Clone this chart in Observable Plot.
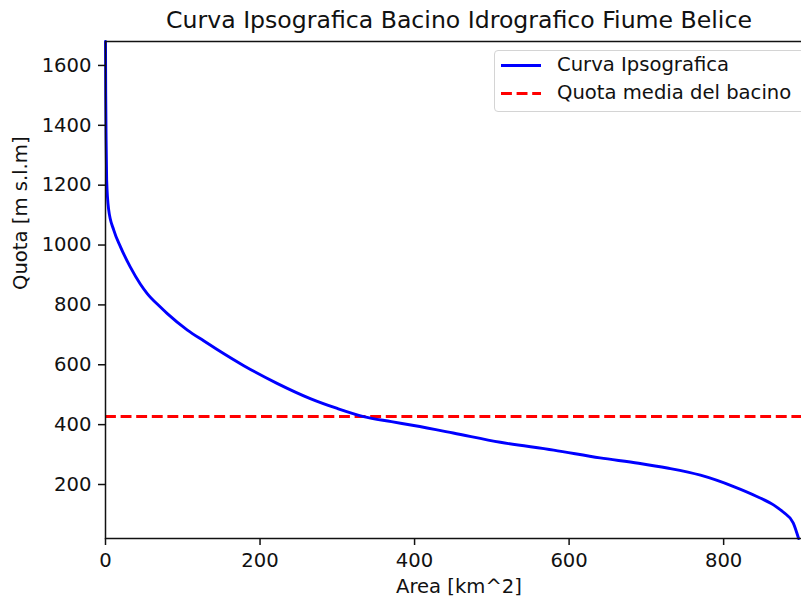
<!DOCTYPE html>
<html>
<head>
<meta charset="utf-8">
<script src="https://cdn.jsdelivr.net/npm/d3@7"></script>
<script src="https://cdn.jsdelivr.net/npm/@observablehq/plot@0.6"></script>
<style>
  html, body { margin: 0; padding: 0; background: #fff; overflow: hidden; }
  #wrap { position: relative; width: 801px; height: 599px; overflow: hidden; font-family: "DejaVu Sans", sans-serif; }
  #chart svg { max-width: none !important; }
  #legend {
    position: absolute; left: 494px; top: 50px; width: 311px; height: 62px;
    border: 1px solid #d4d4d4; border-radius: 4px; background: rgba(255,255,255,0.8);
    box-sizing: border-box; font-size: 19.6px; color: #111;
  }
  #legend .row { position: absolute; left: 0; height: 24px; width: 100%; }
  #legend svg { position: absolute; left: 5px; top: 0; }
  #legend span { position: absolute; left: 62px; top: 0; white-space: nowrap; line-height: 24px; }
</style>
</head>
<body>
<div id="wrap">
  <div id="chart"></div>
  <div id="legend"></div>
</div>
<script>
// Hypsographic curve of the Belice river basin: cumulative area above each elevation
const area  = [0, 0.3, 0.8, 1.5, 4, 10.8, 19.4, 32, 45, 54, 71, 80, 106, 127, 144.5, 179, 222, 265, 300, 334, 370, 399, 450, 511, 580, 640, 690, 727, 770, 813, 843, 865, 877, 890, 897];
const quota = [1680, 1500, 1350, 1217, 1120, 1049, 994, 927, 870, 838, 793, 771, 716, 680, 651, 597, 538, 487, 454, 427, 410, 397, 372, 341, 315, 289, 271, 255, 231, 193, 160, 131, 108, 72, 19.6];

// Mean basin elevation
const quotaMedia = 427;

// Axis ticks and domains
const xTicks = [0, 200, 400, 600, 800];
const yTicks = [200, 400, 600, 800, 1000, 1200, 1400, 1600];
const xDomain = [0, 915];
const yDomain = [19.6, 1680];

const titolo = "Curva Ipsografica Bacino Idrografico Fiume Belice";
const etichettaX = "Area [km^2]";
const etichettaY = "Quota [m s.l.m]";
const legenda = [
  {label: "Curva Ipsografica", color: "blue", dash: null},
  {label: "Quota media del bacino", color: "red", dash: "10.9,4.7"}
];

const curva = area.map((a, i) => ({area: a, quota: quota[i]}));

const chart = Plot.plot({
  width: 813,
  height: 599,
  marginLeft: 105,
  marginRight: 1,
  marginTop: 41,
  marginBottom: 61,
  style: {fontFamily: "DejaVu Sans", fontSize: "19.6px", color: "#111", background: "white", overflow: "visible", maxWidth: "none"},
  x: {domain: xDomain, ticks: xTicks},
  y: {domain: yDomain, ticks: yTicks},
  marks: [
    Plot.ruleY([quotaMedia], {stroke: "red", strokeWidth: 2.9, strokeDasharray: "10.9,4.7"}),
    Plot.line(curva, {x: "area", y: "quota", stroke: "blue", strokeWidth: 2.9, curve: "monotone-x"}),
    Plot.frame({stroke: "#111", strokeWidth: 1.5}),
    Plot.axisX({ticks: xTicks, tickFormat: d3.format("d"), tickSize: 7, tickPadding: 8, fontSize: 19.6, label: null, stroke: "#111", strokeWidth: 1.5}),
    Plot.axisY({ticks: yTicks, tickFormat: d3.format("d"), tickSize: 7, tickPadding: 7, fontSize: 19.6, label: null, stroke: "#111", strokeWidth: 1.5}),
    Plot.text([titolo], {frameAnchor: "top", lineAnchor: "middle", dy: -21, fontSize: 23.6, fill: "#111"}),
    Plot.text([etichettaX], {frameAnchor: "bottom", lineAnchor: "middle", dy: 48, fontSize: 19.6, fill: "#111"}),
    Plot.text([etichettaY], {frameAnchor: "left", lineAnchor: "middle", dx: -85, rotate: -90, fontSize: 19.6, fill: "#111"})
  ]
});
document.getElementById("chart").appendChild(chart);

// Legend
const leg = document.getElementById("legend");
legenda.forEach((d, i) => {
  const row = document.createElement("div");
  row.className = "row";
  row.style.top = (2 + i * 28) + "px";
  const dash = d.dash ? `stroke-dasharray="${d.dash}"` : "";
  row.innerHTML = `<svg width="44" height="24"><line x1="1" x2="41" y1="12.5" y2="12.5" stroke="${d.color}" stroke-width="2.9" ${dash}/></svg><span>${d.label}</span>`;
  leg.appendChild(row);
});
</script>
</body>
</html>
